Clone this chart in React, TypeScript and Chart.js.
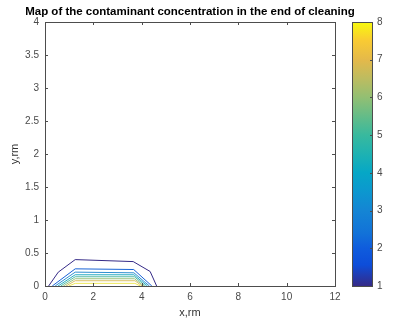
import React, { useEffect, useRef } from "react";
import { Chart, registerables } from "chart.js";

Chart.register(...registerables);

const chartTitle = "Map of the contaminant concentration in the end of cleaning";
const xLabel = "x,rm";
const yLabel = "y,rm";

const xMin = 0;
const xMax = 12;
const xStep = 2;
const yMin = 0;
const yMax = 4;
const yStep = 0.5;

const levels = [1, 2, 3, 4, 5, 6, 7, 8];
const levelColors = ["#352A87", "#1762D6", "#2E8FD0", "#27ABC4", "#58BDA3", "#9CC37F", "#DAC067", "#EEE85A"];

// contour lines (x, y) per level
const contourL1 = [[0.15, 0], [0.55, 0.21], [1.25, 0.4], [3.65, 0.37], [4.35, 0.22], [4.62, 0]];
const contourL2 = [[0.3, 0], [1.25, 0.26], [3.67, 0.25], [4.42, 0]];
const contourL3 = [[0.42, 0], [1.25, 0.21], [3.68, 0.2], [4.32, 0]];
const contourL4 = [[0.54, 0], [1.25, 0.17], [3.68, 0.17], [4.24, 0]];
const contourL5 = [[0.65, 0], [1.25, 0.14], [3.7, 0.14], [4.16, 0]];
const contourL6 = [[0.76, 0], [1.25, 0.11], [3.7, 0.11], [4.09, 0]];
const contourL7 = [[0.87, 0], [1.25, 0.08], [3.72, 0.08], [4.02, 0]];
const contourL8 = [[0.98, 0], [1.25, 0.04], [3.72, 0.04], [3.95, 0]];
const contours = [contourL1, contourL2, contourL3, contourL4, contourL5, contourL6, contourL7, contourL8];

// colorbar
const cbMin = 1;
const cbMax = 8;
const parulaStops = [
  [0.0, "#352A87"],
  [0.08, "#0D4DD9"],
  [0.143, "#0F5CDD"],
  [0.2, "#1272D8"],
  [0.286, "#1485D4"],
  [0.36, "#0C98CF"],
  [0.43, "#06A7C6"],
  [0.5, "#1EB2B2"],
  [0.571, "#38B99E"],
  [0.64, "#62BC89"],
  [0.714, "#92BF73"],
  [0.786, "#BDBC60"],
  [0.857, "#E4B94A"],
  [0.93, "#F9CB33"],
  [1.0, "#F8FA0D"],
];

const FONT = "'Liberation Sans', Arial, Helvetica, sans-serif";
const TICK_COLOR = "#4a4a4a";
const AXIS_COLOR = "#4d4d4d";

const mainPlugin = {
  id: "matlabAxes",
  afterDraw(chart: any) {
    const { ctx, chartArea: a, scales } = chart;
    ctx.save();
    ctx.strokeStyle = AXIS_COLOR;
    ctx.lineWidth = 1;
    ctx.strokeRect(Math.round(a.left) + 0.5, Math.round(a.top) + 0.5, Math.round(a.right - a.left), Math.round(a.bottom - a.top));
    const tl = 3;
    ctx.beginPath();
    scales.x.ticks.forEach((t: any) => {
      const px = Math.round(scales.x.getPixelForValue(t.value)) + 0.5;
      ctx.moveTo(px, a.bottom);
      ctx.lineTo(px, a.bottom - tl);
      ctx.moveTo(px, a.top);
      ctx.lineTo(px, a.top + tl);
    });
    scales.y.ticks.forEach((t: any) => {
      const py = Math.round(scales.y.getPixelForValue(t.value)) + 0.5;
      ctx.moveTo(a.left, py);
      ctx.lineTo(a.left + tl, py);
      ctx.moveTo(a.right, py);
      ctx.lineTo(a.right - tl, py);
    });
    ctx.stroke();
    ctx.fillStyle = "#000000";
    ctx.font = `bold 11.5px ${FONT}`;
    ctx.textAlign = "center";
    ctx.textBaseline = "middle";
    ctx.fillText(chartTitle, (a.left + a.right) / 2, 12);
    ctx.restore();
  },
};

const cbPlugin = {
  id: "cbAxes",
  afterDraw(chart: any) {
    const { ctx, chartArea: a, scales } = chart;
    ctx.save();
    ctx.strokeStyle = AXIS_COLOR;
    ctx.lineWidth = 1;
    ctx.strokeRect(Math.round(a.left) + 0.5, Math.round(a.top) + 0.5, Math.round(a.right - a.left), Math.round(a.bottom - a.top));
    ctx.beginPath();
    scales.y.ticks.forEach((t: any) => {
      const py = Math.round(scales.y.getPixelForValue(t.value)) + 0.5;
      ctx.moveTo(a.right, py);
      ctx.lineTo(a.right - 2, py);
    });
    ctx.stroke();
    ctx.restore();
  },
};

const fmt = (v: any) => `${v}`;

export default function App() {
  const mainRef = useRef<HTMLCanvasElement>(null);
  const cbRef = useRef<HTMLCanvasElement>(null);

  useEffect(() => {
    const datasets = levels.map((lv, i) => ({
      label: `level ${lv}`,
      data: contours[i].map(([x, y]) => ({ x, y })),
      showLine: true,
      borderColor: levelColors[i],
      backgroundColor: levelColors[i],
      borderWidth: 1,
      pointRadius: 0,
      tension: 0,
      fill: false,
    }));

    const main = new Chart(mainRef.current!, {
      type: "scatter",
      data: { datasets },
      plugins: [mainPlugin],
      options: {
        responsive: false,
        animation: false,
        layout: { padding: { top: 22, right: 61, left: 0, bottom: 0 } },
        plugins: { legend: { display: false }, tooltip: { enabled: false }, title: { display: false } },
        scales: {
          x: {
            type: "linear",
            min: xMin,
            max: xMax,
            ticks: { stepSize: xStep, padding: 5, color: TICK_COLOR, font: { size: 10, family: FONT }, callback: fmt },
            grid: { display: false, drawTicks: false },
            border: { display: false },
            title: { display: true, text: xLabel, color: "#333333", font: { size: 11, family: FONT }, padding: { top: 0, bottom: 2 } },
            afterFit: (s: any) => { s.height = 36; },
          },
          y: {
            type: "linear",
            min: yMin,
            max: yMax,
            ticks: { stepSize: yStep, padding: 6, color: TICK_COLOR, font: { size: 10, family: FONT }, callback: fmt },
            grid: { display: false, drawTicks: false },
            border: { display: false },
            title: { display: true, text: yLabel, color: "#333333", font: { size: 11, family: FONT }, padding: { top: 8, bottom: 0 } },
            afterFit: (s: any) => { s.width = 45; },
          },
        },
      },
    });

    const cb = new Chart(cbRef.current!, {
      type: "bar",
      data: {
        labels: ["c"],
        datasets: [
          {
            data: [[cbMin, cbMax]] as any,
            barPercentage: 1,
            categoryPercentage: 1,
            borderWidth: 0,
            backgroundColor: (c: any) => {
              const area = c.chart.chartArea;
              if (!area) return parulaStops[0][1] as string;
              const g = c.chart.ctx.createLinearGradient(0, area.bottom, 0, area.top);
              parulaStops.forEach(([p, col]) => g.addColorStop(p as number, col as string));
              return g;
            },
          },
        ],
      },
      plugins: [cbPlugin],
      options: {
        responsive: false,
        animation: false,
        layout: { padding: { top: 22, left: 12, right: 0, bottom: 36 } },
        plugins: { legend: { display: false }, tooltip: { enabled: false } },
        scales: {
          x: { display: false },
          y: {
            position: "right",
            min: cbMin,
            max: cbMax,
            ticks: { stepSize: 1, padding: 5, color: TICK_COLOR, font: { size: 10, family: FONT }, callback: fmt },
            grid: { display: false, drawTicks: false },
            border: { display: false },
            afterFit: (s: any) => { s.width = 24; },
          },
        },
      },
    });

    return () => {
      main.destroy();
      cb.destroy();
    };
  }, []);

  return (
    <div style={{ position: "absolute", left: 0, top: 0, width: 396, height: 322, background: "#ffffff" }}>
      <canvas ref={mainRef} width={396} height={322} style={{ position: "absolute", left: 0, top: 0, display: "block" }} />
      <canvas ref={cbRef} width={56} height={322} style={{ position: "absolute", left: 340, top: 0, display: "block" }} />
    </div>
  );
}
